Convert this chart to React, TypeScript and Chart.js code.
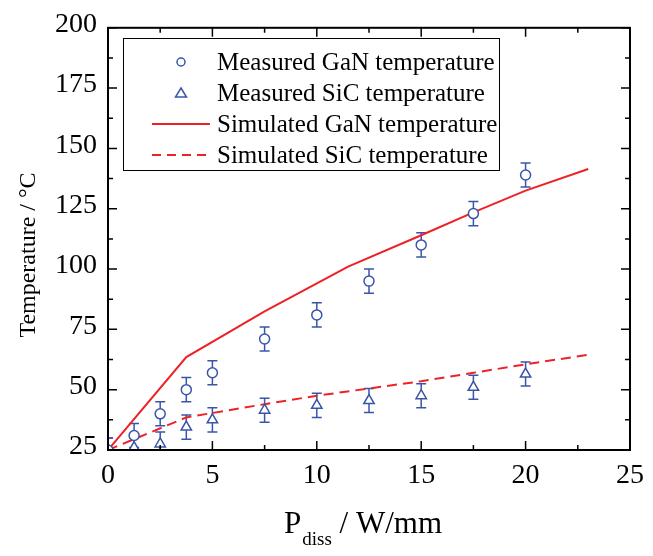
import React, { useEffect, useRef } from 'react';
import { Chart, registerables } from 'chart.js';

Chart.register(...registerables);

// ---- data ----
const measuredPower = [0, 1.25, 2.5, 3.75, 5, 7.5, 10, 12.5, 15, 17.5, 20];
const measuredGaN = [25, 31, 40, 50, 57, 71, 81, 95, 110, 123, 139];
const measuredSiC = [25, 26, 27.5, 34.5, 37.5, 41.5, 43.5, 45.5, 47.5, 51, 56.5];
const measuredError = 5;

const simGaNPower = [0, 3.75, 7.5, 11.5, 15, 17.5, 20, 23];
const simGaN = [25, 63.5, 82.5, 101, 114, 123.5, 132.5, 141.5];
const simSiCPower = [0, 3.75, 7.5, 10, 12.5, 15, 17.5, 20, 23];
const simSiC = [25, 38.5, 44, 47.5, 50.5, 53.5, 57, 60.5, 64.5];

const xTicks = [0, 5, 10, 15, 20, 25];
const yTicks = [25, 50, 75, 100, 125, 150, 175, 200];
const xMinorStep = 2.5;
const yMinorStep = 12.5;

const legendLabels = [
  'Measured GaN temperature',
  'Measured SiC temperature',
  'Simulated GaN temperature',
  'Simulated SiC temperature',
];
const yTitle = 'Temperature / °C';
const xTitleMain = 'P';
const xTitleSub = 'diss';
const xTitleUnit = ' / W/mm';

const BLUE = '#3a55a8';
const RED = '#ee2127';
const FONT = "'Liberation Serif', 'Times New Roman', serif";

const toPoints = (xs: number[], ys: number[]) => xs.map((x, i) => ({ x, y: ys[i] }));

const framePlugin = {
  id: 'frameAndExtras',
  beforeDatasetsDraw(chart: any) {
    const { ctx, chartArea, scales } = chart;
    const xs = scales.x;
    const ys = scales.y;
    ctx.save();
    ctx.beginPath();
    ctx.rect(chartArea.left, chartArea.top, chartArea.right - chartArea.left, chartArea.bottom - chartArea.top);
    ctx.clip();
    ctx.strokeStyle = BLUE;
    ctx.lineWidth = 1.5;
    [measuredGaN, measuredSiC].forEach((vals) => {
      measuredPower.forEach((p, i) => {
        const px = xs.getPixelForValue(p);
        const top = ys.getPixelForValue(vals[i] + measuredError);
        const bot = ys.getPixelForValue(vals[i] - measuredError);
        ctx.beginPath();
        ctx.moveTo(px, top);
        ctx.lineTo(px, bot);
        ctx.moveTo(px - 5, top);
        ctx.lineTo(px + 5, top);
        ctx.moveTo(px - 5, bot);
        ctx.lineTo(px + 5, bot);
        ctx.stroke();
      });
    });
    ctx.restore();
  },
  afterDraw(chart: any) {
    const { ctx, chartArea, scales } = chart;
    const xs = scales.x;
    const ys = scales.y;
    const { left, right, top, bottom } = chartArea;
    ctx.save();
    // frame
    ctx.strokeStyle = '#000';
    ctx.lineWidth = 2;
    ctx.strokeRect(left, top, right - left, bottom - top);
    // ticks (inward)
    ctx.lineWidth = 1.5;
    const xMin = xTicks[0];
    const xMax = xTicks[xTicks.length - 1];
    for (let v = xMin; v <= xMax + 1e-9; v += xMinorStep) {
      const major = xTicks.some((t) => Math.abs(t - v) < 1e-6);
      const len = major ? 9 : 5;
      const px = xs.getPixelForValue(v);
      ctx.beginPath();
      ctx.moveTo(px, bottom);
      ctx.lineTo(px, bottom - len);
      ctx.moveTo(px, top);
      ctx.lineTo(px, top + len);
      ctx.stroke();
    }
    const yMin = yTicks[0];
    const yMax = yTicks[yTicks.length - 1];
    for (let v = yMin; v <= yMax + 1e-9; v += yMinorStep) {
      const major = yTicks.some((t) => Math.abs(t - v) < 1e-6);
      const len = major ? 9 : 5;
      const py = ys.getPixelForValue(v);
      ctx.beginPath();
      ctx.moveTo(left, py);
      ctx.lineTo(left + len, py);
      ctx.moveTo(right, py);
      ctx.lineTo(right - len, py);
      ctx.stroke();
    }

    // legend
    const lx = 123, ly = 38, lw = 376, lh = 132;
    ctx.fillStyle = '#fff';
    ctx.fillRect(lx, ly, lw, lh);
    ctx.strokeStyle = '#000';
    ctx.lineWidth = 1;
    ctx.strokeRect(lx + 0.5, ly + 0.5, lw, lh);
    ctx.font = `25px ${FONT}`;
    ctx.textBaseline = 'middle';
    ctx.textAlign = 'left';
    legendLabels.forEach((label, i) => {
      const cy = 62 + i * 31;
      const cx = 181;
      if (i === 0) {
        ctx.strokeStyle = BLUE;
        ctx.lineWidth = 1.5;
        ctx.beginPath();
        ctx.arc(cx, cy, 4, 0, Math.PI * 2);
        ctx.stroke();
      } else if (i === 1) {
        ctx.strokeStyle = BLUE;
        ctx.lineWidth = 1.5;
        ctx.beginPath();
        ctx.moveTo(cx, cy - 5);
        ctx.lineTo(cx + 5.5, cy + 4);
        ctx.lineTo(cx - 5.5, cy + 4);
        ctx.closePath();
        ctx.stroke();
      } else {
        ctx.strokeStyle = RED;
        ctx.lineWidth = 2;
        ctx.setLineDash(i === 3 ? [9, 6] : []);
        ctx.beginPath();
        ctx.moveTo(152, cy);
        ctx.lineTo(210, cy);
        ctx.stroke();
        ctx.setLineDash([]);
      }
      ctx.fillStyle = '#000';
      ctx.fillText(label, 217, cy + 1);
    });

    // y title
    ctx.save();
    ctx.translate(29, 255);
    ctx.rotate(-Math.PI / 2);
    ctx.font = `24px ${FONT}`;
    ctx.textAlign = 'center';
    ctx.textBaseline = 'middle';
    ctx.fillStyle = '#000';
    ctx.fillText(yTitle, 0, 0);
    ctx.restore();

    // x title
    ctx.fillStyle = '#000';
    ctx.textAlign = 'left';
    ctx.textBaseline = 'alphabetic';
    let tx = 284;
    const base = 533;
    ctx.font = `31px ${FONT}`;
    ctx.fillText(xTitleMain, tx, base);
    tx += ctx.measureText(xTitleMain).width + 1;
    ctx.font = `19px ${FONT}`;
    ctx.fillText(xTitleSub, tx, base + 12);
    tx += ctx.measureText(xTitleSub).width;
    ctx.font = `31px ${FONT}`;
    ctx.fillText(xTitleUnit, tx, base);
    ctx.restore();
  },
};

export default function App() {
  const ref = useRef<HTMLCanvasElement>(null);
  useEffect(() => {
    const canvas = ref.current;
    if (!canvas) return;
    const chart = new Chart(canvas, {
      type: 'scatter',
      data: {
        datasets: [
          {
            label: legendLabels[0],
            data: toPoints(measuredPower, measuredGaN),
            pointStyle: 'circle',
            pointRadius: 5,
            borderColor: BLUE,
            backgroundColor: '#fff',
            pointBorderWidth: 1.5,
            showLine: false,
          },
          {
            label: legendLabels[1],
            data: toPoints(measuredPower, measuredSiC),
            pointStyle: 'triangle',
            pointRadius: 6,
            borderColor: BLUE,
            backgroundColor: '#fff',
            pointBorderWidth: 1.5,
            showLine: false,
          },
          {
            label: legendLabels[2],
            data: toPoints(simGaNPower, simGaN),
            showLine: true,
            borderColor: RED,
            backgroundColor: RED,
            borderWidth: 2,
            pointRadius: 0,
            tension: 0,
          },
          {
            label: legendLabels[3],
            data: toPoints(simSiCPower, simSiC),
            showLine: true,
            borderColor: RED,
            backgroundColor: RED,
            borderWidth: 2,
            borderDash: [10, 6],
            pointRadius: 0,
            tension: 0,
          },
        ],
      },
      options: {
        responsive: false,
        animation: false,
        devicePixelRatio: 1,
        layout: { padding: { left: 0, right: 19, top: 25, bottom: 0 } },
        plugins: { legend: { display: false }, tooltip: { enabled: false } },
        scales: {
          x: {
            type: 'linear',
            min: xTicks[0],
            max: xTicks[xTicks.length - 1],
            afterBuildTicks: (s: any) => {
              s.ticks = xTicks.map((v) => ({ value: v }));
            },
            afterFit: (s: any) => {
              s.height = 106;
            },
            ticks: { font: { family: FONT, size: 28 }, color: '#000', padding: 9, maxRotation: 0 },
            grid: { display: false, drawTicks: false },
            border: { display: false },
          },
          y: {
            type: 'linear',
            min: yTicks[0],
            max: yTicks[yTicks.length - 1],
            afterBuildTicks: (s: any) => {
              s.ticks = yTicks.map((v) => ({ value: v }));
            },
            afterFit: (s: any) => {
              s.width = 108;
            },
            ticks: { font: { family: FONT, size: 28 }, color: '#000', padding: 11, labelOffset: -3 },
            grid: { display: false, drawTicks: false },
            border: { display: false },
          },
        },
      },
      plugins: [framePlugin],
    } as any);
    return () => chart.destroy();
  }, []);
  return (
    <div style={{ position: 'fixed', left: 0, top: 0, width: 653, height: 556, background: '#fff' }}>
      <canvas ref={ref} width={653} height={556} style={{ display: 'block', width: 653, height: 556 }} />
    </div>
  );
}
